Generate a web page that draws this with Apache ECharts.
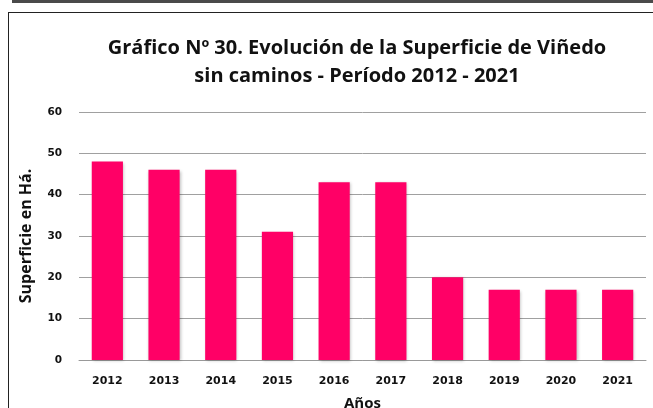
<!DOCTYPE html>
<html>
<head>
<meta charset="utf-8">
<script src="https://cdn.jsdelivr.net/npm/echarts@6/dist/echarts.min.js"></script>
<style>
  html, body { margin: 0; padding: 0; background: #fff; }
  #chart { width: 653px; height: 408px; }
</style>
</head>
<body>
<div id="chart"></div>
<script>
const years = ['2012', '2013', '2014', '2015', '2016', '2017', '2018', '2019', '2020', '2021'];
const superficie = [48, 46, 46, 31, 43, 43, 20, 17, 17, 17];
const yTicks = [0, 10, 20, 30, 40, 50, 60];

const chart = echarts.init(document.getElementById('chart'));

const option = {
  animation: false,
  backgroundColor: '#fff',
  title: {
    text: 'Gráfico Nº 30. Evolución de la Superficie de Viñedo\nsin caminos - Período 2012 - 2021',
    left: 352,
    top: 29,
    textAlign: 'center',
    textStyle: {
      fontFamily: 'Open Sans',
      fontWeight: 'bold',
      fontSize: 20,
      lineHeight: 28,
      color: '#111'
    }
  },
  graphic: [
    // dark band at the top and frame around the chart
    { type: 'rect', shape: { x: 12, y: 0, width: 660, height: 3 }, style: { fill: '#4a4a4a' } },
    { type: 'line', shape: { x1: 8, y1: 12.5, x2: 660, y2: 12.5 }, style: { stroke: '#222', lineWidth: 1 } },
    { type: 'line', shape: { x1: 8.5, y1: 12, x2: 8.5, y2: 420 }, style: { stroke: '#222', lineWidth: 1 } }
  ],
  grid: { left: 79, right: 7, top: 112, bottom: 48, outerBoundsMode: 'none', containLabel: false },
  xAxis: {
    type: 'category',
    data: years,
    name: 'Años',
    nameLocation: 'middle',
    nameGap: 36,
    nameTextStyle: { fontFamily: 'Open Sans', fontWeight: 'bold', fontSize: 15, color: '#111' },
    axisTick: { show: false },
    axisLine: { lineStyle: { color: '#999' } },
    axisLabel: { margin: 16, fontFamily: 'DejaVu Sans', fontWeight: 'bold', fontSize: 11, color: '#111' }
  },
  yAxis: {
    type: 'value',
    min: yTicks[0],
    max: yTicks[yTicks.length - 1],
    interval: 10,
    name: 'Superficie en Há.',
    nameLocation: 'middle',
    nameGap: 45,
    nameTextStyle: { fontFamily: 'Open Sans', fontWeight: 'bold', fontSize: 16, color: '#111' },
    axisLine: { show: false },
    axisTick: { show: false },
    axisLabel: { margin: 17, fontFamily: 'DejaVu Sans', fontWeight: 'bold', fontSize: 10.5, color: '#111' },
    splitLine: { lineStyle: { color: '#a0a0a0', width: 1 } }
  },
  series: [{
    type: 'bar',
    data: superficie,
    barCategoryGap: '45%',
    itemStyle: {
      color: '#ff0066',
      shadowColor: 'rgba(0,0,0,0.25)',
      shadowBlur: 3,
      shadowOffsetX: 1,
      shadowOffsetY: 1
    }
  }]
};

chart.setOption(option);
</script>
</body>
</html>
